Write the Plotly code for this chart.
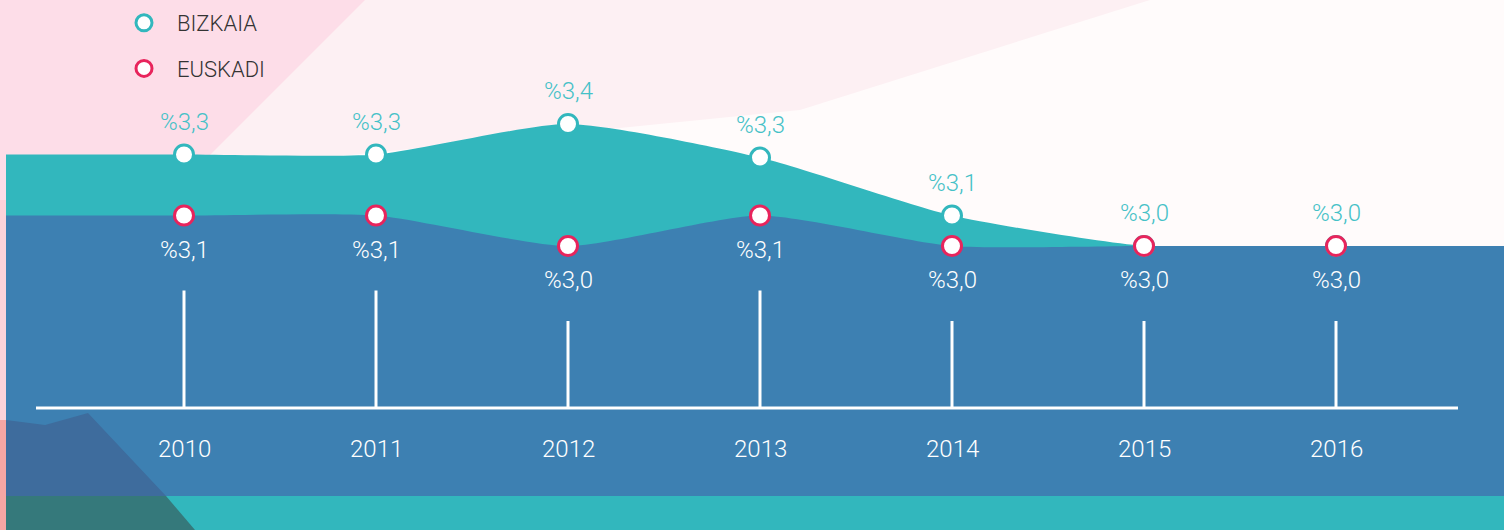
import plotly.graph_objects as go

# ---------------- data ----------------
years = [2010, 2011, 2012, 2013, 2014, 2015, 2016]
bizkaia = [3.3, 3.3, 3.4, 3.29, 3.1, 3.0, 3.0]
euskadi = [3.1, 3.1, 3.0, 3.1, 3.0, 3.0, 3.0]
bizkaia_labels = ["%3,3", "%3,3", "%3,4", "%3,3", "%3,1", "%3,0", "%3,0"]
euskadi_labels = ["%3,1", "%3,1", "%3,0", "%3,1", "%3,0", "%3,0", "%3,0"]
year_labels = ["2010", "2011", "2012", "2013", "2014", "2015", "2016"]
series_names = ["BIZKAIA", "EUSKADI"]

# ---------------- style ----------------
W, H = 1504, 530
TEAL = "#32b7bd"
BLUE = "#3d80b2"
RED = "#e8245c"
LABEL_TEAL = "#45c1c7"
FONT = "Roboto"

X_PX_PER_YEAR = 192.0
X0_PX = 184.0
xmin = years[0] - X0_PX / X_PX_PER_YEAR
xmax = xmin + W / X_PX_PER_YEAR
Y_PX_PER_UNIT = 305.0
ymin = 3.0 - (H - 246) / Y_PX_PER_UNIT
ymax = ymin + H / Y_PX_PER_UNIT

def px(x):
    return x / W

def py(y):
    return 1 - y / H

baseline_val = ymin + (H - 408) / Y_PX_PER_UNIT
stem_gap = 75 / Y_PX_PER_UNIT

x_left = xmin + 6 / X_PX_PER_YEAR
x_ext = [x_left] + years + [xmax + 0.2]
biz_ext = [bizkaia[0]] + bizkaia + [bizkaia[-1]]
eus_ext = [euskadi[0]] + euskadi + [euskadi[-1]]

SMOOTH = 0.6

fig = go.Figure()

fig.add_trace(go.Scatter(x=x_ext, y=biz_ext, mode="lines", line=dict(color=TEAL, width=0, shape="spline", smoothing=SMOOTH),
                         fill="tozeroy", fillcolor=TEAL, showlegend=False, hoverinfo="skip"))
fig.add_trace(go.Scatter(x=x_ext, y=eus_ext, mode="lines", line=dict(color=BLUE, width=0, shape="spline", smoothing=SMOOTH),
                         fill="tozeroy", fillcolor=BLUE, showlegend=False, hoverinfo="skip"))

for yr, ev in zip(years, euskadi):
    fig.add_trace(go.Scatter(x=[yr, yr], y=[baseline_val, ev - stem_gap], mode="lines",
                             line=dict(color="white", width=3), showlegend=False, hoverinfo="skip"))

fig.add_trace(go.Scatter(x=years, y=bizkaia, mode="markers", name=series_names[0], legendgroup="a",
                         marker=dict(size=19, color="white", line=dict(color=TEAL, width=3)), hoverinfo="skip"))
fig.add_trace(go.Scatter(x=years, y=euskadi, mode="markers", name=series_names[1], legendgroup="b",
                         marker=dict(size=19, color="white", line=dict(color=RED, width=3)), hoverinfo="skip"))

annotations = []
for yr, v, t in zip(years, bizkaia, bizkaia_labels):
    annotations.append(dict(x=yr, y=v, text=t, showarrow=False, yshift=33,
                            font=dict(family=FONT, size=24, color=LABEL_TEAL, weight=300)))
for yr, v, t in zip(years, euskadi, euskadi_labels):
    annotations.append(dict(x=yr, y=v, text=t, showarrow=False, yshift=-34,
                            font=dict(family=FONT, size=24, color="white", weight=300)))
for yr, t in zip(years, year_labels):
    annotations.append(dict(x=yr, y=py(449), yref="paper", yanchor="middle", text=t, showarrow=False,
                            font=dict(family=FONT, size=24, color="white", weight=300)))

shapes = [
    # background tints
    dict(type="path", xref="paper", yref="paper", layer="below",
         path=f"M 0 1 L {px(1150)} 1 L {px(800)} {py(110)} L {px(300)} {py(160)} L 0 {py(170)} Z",
         fillcolor="#fdf0f3", line=dict(width=0)),
    dict(type="path", xref="paper", yref="paper", layer="below",
         path=f"M 0 1 L {px(365)} 1 L {px(150)} {py(215)} L 0 {py(215)} Z",
         fillcolor="#fddde8", line=dict(width=0)),
    dict(type="rect", xref="paper", yref="paper", layer="below",
         x0=0, x1=px(6), y0=0, y1=py(200), fillcolor="#fcd3da", line=dict(width=0)),
    dict(type="rect", xref="paper", yref="paper", layer="below",
         x0=0, x1=px(6), y0=0, y1=py(420), fillcolor="#f6a6a4", line=dict(width=0)),
    # darker wedge bottom-left over the blue area
    dict(type="path", xref="paper", yref="paper", layer="above",
         path=f"M {px(6)} {py(420)} L {px(45)} {py(425)} L {px(88)} {py(413)} L {px(166)} {py(496)} L {px(6)} {py(496)} Z",
         fillcolor="#3e6c9d", line=dict(width=0)),
    # bottom teal strip
    dict(type="rect", xref="paper", yref="paper", layer="above",
         x0=px(6), x1=1, y0=0, y1=py(496), fillcolor=TEAL, line=dict(width=0)),
    dict(type="path", xref="paper", yref="paper", layer="above",
         path=f"M {px(6)} {py(496)} L {px(166)} {py(496)} L {px(195)} 0 L {px(6)} 0 Z",
         fillcolor="#35797b", line=dict(width=0)),
    # baseline
    dict(type="line", xref="paper", yref="paper", layer="above",
         x0=px(36), x1=px(1458), y0=py(408), y1=py(408), line=dict(color="white", width=3)),
]

fig.update_layout(
    width=W, height=H,
    margin=dict(l=0, r=0, t=0, b=0),
    paper_bgcolor="#fffbfb", plot_bgcolor="rgba(0,0,0,0)",
    xaxis=dict(range=[xmin, xmax], visible=False, fixedrange=True),
    yaxis=dict(range=[ymin, ymax], visible=False, fixedrange=True),
    showlegend=True,
    legend=dict(x=px(111), y=py(2), xanchor="left", yanchor="top", bgcolor="rgba(0,0,0,0)",
                font=dict(family=FONT, size=22, color="#333333", weight=300),
                traceorder="grouped", tracegroupgap=14, itemsizing="trace", itemwidth=56),
    annotations=annotations,
    shapes=shapes,
    hovermode=False,
)

fig.write_html("out.html", config={"displayModeBar": False},
               post_script="document.body.style.margin='0';document.body.style.overflow='hidden';")
